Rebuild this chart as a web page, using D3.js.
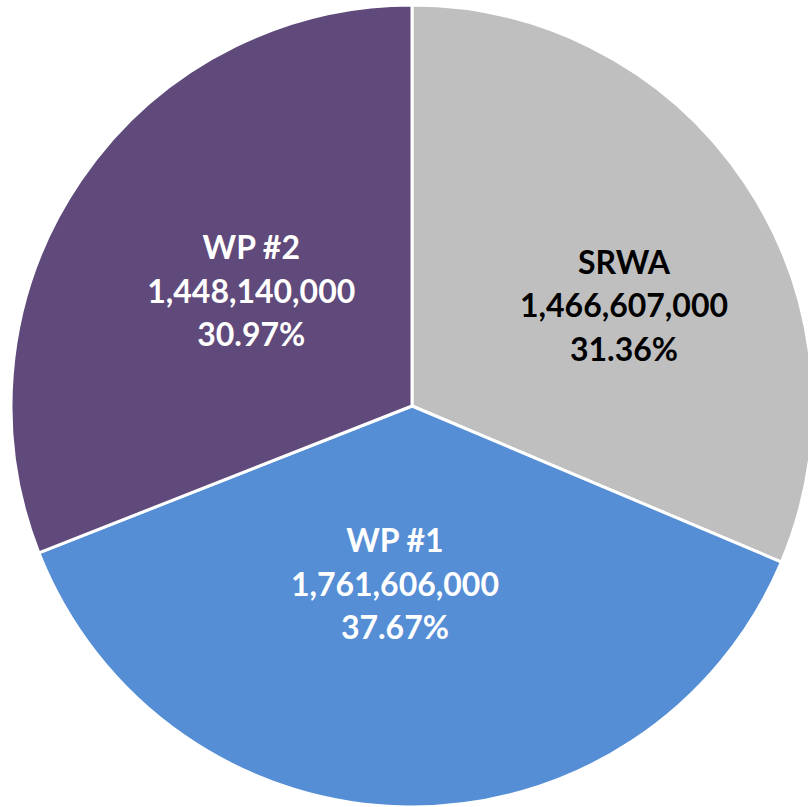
<!DOCTYPE html>
<html><head><meta charset="utf-8">
<script src="https://cdn.jsdelivr.net/npm/d3@7"></script>
<style>html,body{margin:0;padding:0;background:#fff;}svg{display:block;}</style>
</head><body>
<svg id="chart" width="808" height="807"></svg>
<script>
const categories = ["SRWA", "WP #1", "WP #2"];
const values = [1466607000, 1761606000, 1448140000];
const percentLabels = ["31.36%", "37.67%", "30.97%"];
const colors = ["#BFBFBF", "#558ED5", "#604A7B"];
const labelColors = ["#000000", "#FFFFFF", "#FFFFFF"];
// label placement: fraction of radius and angle shift (degrees) from slice bisector
const labelRadiusFrac = [0.586, 0.444, 0.494];
const labelAngleShift = [8, 4.8, 1.5];

const W = 808, H = 807;
const cx = 412, cy = 406, R = 401;
const svg = d3.select("#chart");
const g = svg.append("g").attr("transform", `translate(${cx},${cy})`);

const pie = d3.pie().sort(null).value(d => d)(values);
const arc = d3.arc().innerRadius(0).outerRadius(R);

g.selectAll("path").data(pie).join("path")
  .attr("d", arc)
  .attr("fill", (d, i) => colors[i])
  .attr("stroke", "#fff").attr("stroke-width", 3).attr("stroke-linejoin", "round");

const fmt = d3.format(",");
const lineH = 43.5;
pie.forEach((d, i) => {
  const a = (d.startAngle + d.endAngle) / 2 + labelAngleShift[i] * Math.PI / 180;
  const r = R * labelRadiusFrac[i];
  const x = r * Math.sin(a), y = -r * Math.cos(a);
  const lines = [categories[i], fmt(values[i]), percentLabels[i]];
  const t = g.append("text")
    .attr("text-anchor", "middle")
    .attr("font-family", "Lato, 'Open Sans', sans-serif")
    .attr("font-weight", "bold")
    .attr("font-size", 32)
    .attr("fill", labelColors[i]);
  lines.forEach((s, k) => {
    t.append("tspan").attr("x", x).attr("y", y + (k - 1) * lineH)
      .attr("dominant-baseline", "central").text(s);
  });
});
</script>
</body></html>
